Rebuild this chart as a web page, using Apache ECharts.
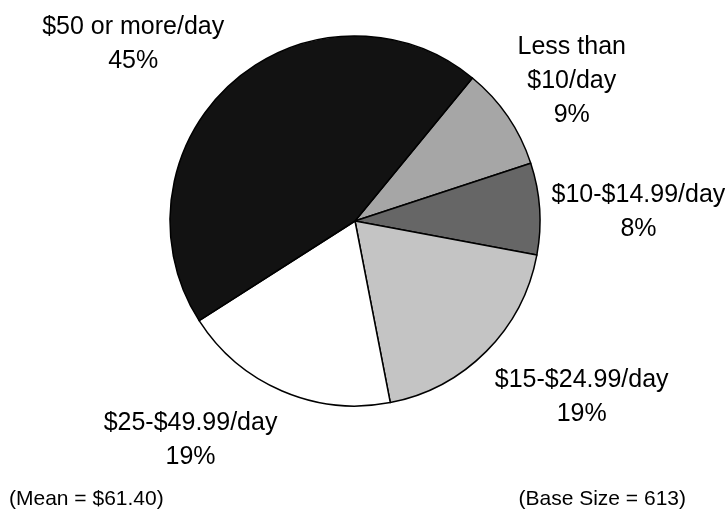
<!DOCTYPE html>
<html>
<head>
<meta charset="utf-8">
<style>
  html, body { margin: 0; padding: 0; background: #ffffff; }
  #chart { width: 725px; height: 510px; }
</style>
<script src="https://cdn.jsdelivr.net/npm/echarts@6/dist/echarts.min.js"></script>
</head>
<body>
<div id="chart"></div>
<script>
// Daily spending brackets and their share of respondents (%)
const categories = ['Less than\n$10/day', '$10-$14.99/day', '$15-$24.99/day', '$25-$49.99/day', '$50 or more/day'];
const shares = [9, 8, 19, 19, 45];
const sliceColors = ['#a6a6a6', '#666666', '#c4c4c4', '#ffffff', '#121212'];
const notes = ['(Mean = $61.40)', '(Base Size = 613)'];

const FONT = '"Liberation Sans", Arial, Helvetica, sans-serif';
const CX = 355, CY = 221, R = 185, START = 50.6, GAP = 12, TEXT_DROP = 4;

const total = shares.reduce((a, b) => a + b, 0);
const clamp = v => Math.max(-1, Math.min(1, v));

// Place each label box so its nearest side/corner sits just outside the slice's mid-angle
function placeLabel(params) {
  const i = params.dataIndex;
  let before = 0;
  for (let k = 0; k < i; k++) before += shares[k];
  const mid = (START - (before + shares[i] / 2) / total * 360) * Math.PI / 180;
  const c = Math.cos(mid), s = Math.sin(mid);
  const ax = CX + (R + GAP) * c;
  const ay = CY - (R + GAP) * s;
  const w = params.labelRect.width, h = params.labelRect.height;
  const fx = clamp(c * 3);
  const fy = -Math.sign(s) * Math.min(1, 2 * s * s);
  return {
    x: ax + fx * w / 2,
    y: ay + fy * h / 2 + TEXT_DROP,
    align: 'center',
    verticalAlign: 'middle'
  };
}

const chart = echarts.init(document.getElementById('chart'), null, { renderer: 'canvas' });
chart.setOption({
  animation: false,
  backgroundColor: '#ffffff',
  title: [
    { text: notes[0], left: 9, top: 489, padding: 0,
      textStyle: { fontFamily: FONT, fontSize: 21, fontWeight: 'normal', color: '#000' } },
    { text: notes[1], right: 39, top: 489, padding: 0,
      textStyle: { fontFamily: FONT, fontSize: 21, fontWeight: 'normal', color: '#000' } }
  ],
  series: [{
    type: 'pie',
    center: [CX, CY],
    radius: R,
    startAngle: START,
    clockwise: true,
    avoidLabelOverlap: false,
    emphasis: { disabled: true },
    itemStyle: { borderColor: '#000000', borderWidth: 1.5 },
    label: {
      show: true,
      position: 'outside',
      formatter: '{b}\n{c}%',
      fontFamily: FONT,
      fontSize: 25,
      lineHeight: 34,
      color: '#000',
      align: 'center'
    },
    labelLine: { show: false },
    labelLayout: placeLabel,
    data: categories.map((name, i) => ({
      name: name,
      value: shares[i],
      itemStyle: { color: sliceColors[i] }
    }))
  }]
});
</script>
</body>
</html>
